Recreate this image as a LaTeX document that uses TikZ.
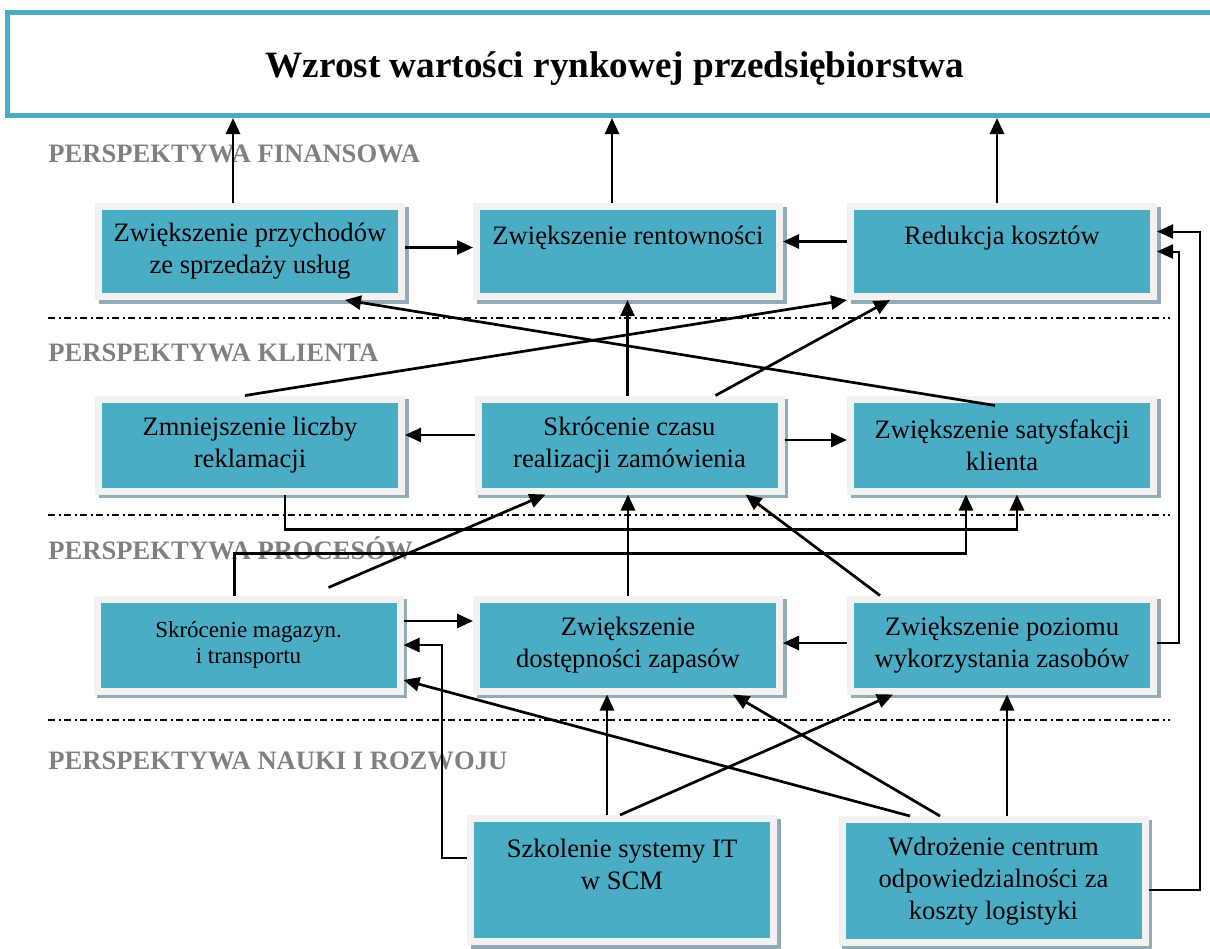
\documentclass[tikz,border=0pt]{standalone}
\usepackage{fontspec}
\setmainfont{Liberation Serif}
\usetikzlibrary{arrows.meta,shadows}
\definecolor{turkus}{HTML}{4BACC6}
\definecolor{ramka}{HTML}{F2F2F2}
\definecolor{cien}{HTML}{94ABB5}
\definecolor{szary}{HTML}{808080}
\begin{document}
\begin{tikzpicture}[x=0.5pt,y=-0.5pt,
  blok/.style={rectangle,fill=turkus,draw=ramka,line width=3.5pt,
    minimum width=151.5pt,minimum height=46pt,inner sep=2pt,align=center,
    font=\fontsize{13.3}{16}\selectfont,
    drop shadow={shadow xshift=1.8pt,shadow yshift=-1.8pt,fill=cien,draw=cien,line width=3.5pt,opacity=1}},
  perspektywa/.style={anchor=base west,inner sep=0pt,text=szary,font=\fontsize{13.3}{16}\selectfont\bfseries},
  granica/.style={line width=1pt,dash pattern=on 3.5pt off 1.75pt on 1pt off 1.75pt},
  strzalka/.style={line width=1.35pt,-{Triangle[length=8pt,width=7pt]}},
  cienka/.style={strzalka,line width=1pt}]
\useasboundingbox (0,0) rectangle (1210,948);
\node[draw=turkus,line width=2.5pt,minimum width=607.5pt,minimum height=51.5pt,text height=17.5pt,
  font=\fontsize{18.6}{22}\selectfont\bfseries] (tytul) at (615,64) {Wzrost wartości rynkowej przedsiębiorstwa};

% perspektywy
\node[perspektywa] (pf) at (48,162) {PERSPEKTYWA FINANSOWA};
\node[perspektywa] (pk) at (48,361) {PERSPEKTYWA KLIENTA};
\node[perspektywa] (pp) at (48,559) {PERSPEKTYWA PROCESÓW};
\node[perspektywa] (pn) at (48,769) {PERSPEKTYWA NAUKI I ROZWOJU};
\draw[granica] (48,318) -- (1170,318);
\draw[granica] (48,515) -- (1170,515);
\draw[granica] (48,720) -- (1170,720);

% bloki
\node[blok,minimum height=45pt] (a1) at (250,251.5) {Zwiększenie przychodów\\ze sprzedaży usług};
\node[blok,minimum height=45pt] (a2) at (628,251.5) {Zwiększenie rentowności\\\mbox{}};
\node[blok,minimum height=45pt] (a3) at (1002,251.5) {Redukcja kosztów\\\mbox{}};
\node[blok] (b1) at (250,445) {Zmniejszenie liczby\\reklamacji};
\node[blok] (b2) at (629.5,445) {Skrócenie czasu\\realizacji zamówienia};
\node[blok] (b3) at (1002,445) {Zwiększenie satysfakcji\\klienta};
\node[blok,font=\fontsize{11.5}{13}\selectfont] (c1) at (248.5,645) {Skrócenie magazyn.\\i transportu};
\node[blok] (c2) at (628,645) {Zwiększenie\\dostępności zapasów};
\node[blok] (c3) at (1002,645) {Zwiększenie poziomu\\wykorzystania zasobów};
\node[blok,minimum height=61.5pt] (d1) at (622,880) {Szkolenie systemy IT\\w SCM\\\mbox{}};
\node[blok,minimum height=61.5pt] (d2) at (993.5,881) {Wdrożenie centrum\\odpowiedzialności za\\koszty logistyki};

% finansowa
\draw[strzalka] ([xshift=-8.5pt]a1.north) -- ([xshift=-8.5pt]a1.north |- tytul.south);
\draw[strzalka] ([xshift=-8pt]a2.north) -- ([xshift=-8pt]a2.north |- tytul.south);
\draw[strzalka] ([xshift=-2.5pt]a3.north) -- ([xshift=-2.5pt]a3.north |- tytul.south);
\draw[strzalka] ([yshift=2pt]a1.east) -- ([yshift=2pt]a2.west);
\draw[strzalka] ([yshift=5pt]a3.west) -- ([yshift=5pt]a2.east);

% klient
\draw[strzalka] ([xshift=-1pt]b2.north) -- ([xshift=-1pt]b2.north |- a2.south);
\draw[strzalka] ([xshift=-2.5pt]b1.north) -- (a3.south west);
\draw[strzalka] ([xshift=43pt]b2.north) -- ([xshift=-56pt]a3.south);
\draw[strzalka] ([xshift=-3.5pt,yshift=-5pt]b3.north) -- ([xshift=47.5pt]a1.south);
\draw[strzalka] ([yshift=5pt]b2.west) -- ([yshift=5pt]b1.east);
\draw[strzalka] ([yshift=2.5pt]b2.east) -- ([yshift=2.5pt]b3.west);

% procesy
\draw[strzalka] ([xshift=40pt,yshift=4pt]c1.north) -- ([xshift=-42pt]b2.south);
\draw[strzalka] (c2.north) -- (c2.north |- b2.south);
\draw[strzalka] ([xshift=-61pt]c3.north) -- ([xshift=58pt]b2.south);
\draw[strzalka] ([xshift=17.5pt]b1.south) -- ++(0,35) -| ([xshift=7.5pt]b3.south);
\draw[strzalka] ([xshift=-7pt]c1.north) -- ++(0,-42) -| ([xshift=-18pt]b3.south);
\draw[strzalka] ([yshift=12pt]c1.east) -- ([yshift=12pt]c2.west);
\draw[strzalka] ([yshift=1pt]c3.west) -- ([yshift=1pt]c2.east);
\draw[cienka] ([yshift=1pt]c3.east) -- ++(22,0) |- (a3.east);

% nauka i rozwoj
\draw[cienka] ([yshift=-4.5pt]d2.east) -- ++(51,0) |- ([yshift=10pt]a3.east);
\draw[strzalka] ([yshift=11pt]d1.west) -- ++(-25,0) |- (c1.east);
\draw[strzalka] ([xshift=-41.75pt]d2.north) -- ([yshift=-17.5pt]c1.east);
\draw[strzalka] ([xshift=-26.75pt]d2.north) -- ([xshift=52.5pt]c2.south);
\draw[strzalka] ([xshift=-1pt]d1.north) -- ([xshift=-54.5pt]c3.south);
\draw[strzalka] ([xshift=-7.5pt]d1.north) -- ([xshift=-7.5pt]d1.north |- c2.south);
\draw[strzalka] ([xshift=6.75pt]d2.north) -- ([xshift=6.75pt]d2.north |- c3.south);
\end{tikzpicture}
\end{document}
